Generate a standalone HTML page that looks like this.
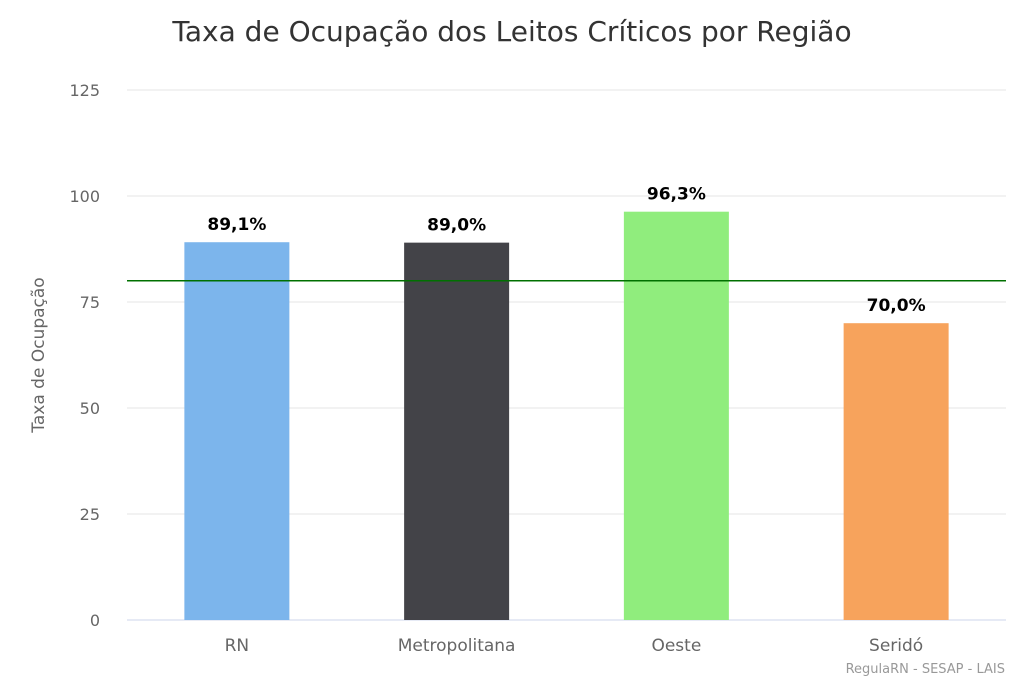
<!DOCTYPE html>
<html><head><meta charset="utf-8"><style>
body{margin:0;background:#fff;font-family:"DejaVu Sans","Liberation Sans",sans-serif}
</style></head><body>
<svg id="chart" width="1024" height="683" xmlns="http://www.w3.org/2000/svg">
<rect width="1024" height="683" fill="#fff"/>
<text x="512" y="41" text-anchor="middle" font-size="28" fill="#333">Taxa de Ocupação dos Leitos Críticos por Região</text>
<text transform="translate(44,355) rotate(-90)" text-anchor="middle" font-size="17" fill="#666">Taxa de Ocupação</text>
<g id="grid"></g><g id="bars"></g>
<text x="1005" y="673" text-anchor="end" font-size="13" fill="#999">RegulaRN - SESAP - LAIS</text>
</svg>
<script>
const categories=["RN","Metropolitana","Oeste","Seridó"];
const values=[89.1,89.0,96.3,70.0];
const labels=["89,1%","89,0%","96,3%","70,0%"];
const colors=["#7cb5ec","#434348","#90ed7d","#f7a35c"];
const yTicks=[0,25,50,75,100,125];
const target=80;
const NS="http://www.w3.org/2000/svg";
const x0=127,x1=1006,y0=620,yMax=125,yTop=90;
const y=v=>y0-(v/yMax)*(y0-yTop);
const bw=(x1-x0)/categories.length;
const xc=i=>x0+bw*(i+0.5);
function mk(t,a,p){const e=document.createElementNS(NS,t);for(const k in a)e.setAttribute(k,a[k]);p.appendChild(e);return e;}
const g=document.getElementById('grid'),b=document.getElementById('bars');
yTicks.forEach(t=>{
 const l=mk('line',{x1:x0,x2:x1,y1:y(t),y2:y(t),stroke:t===0?'#ccd6eb':'#e6e6e6','stroke-width':1},g);
 
 
 const tx=mk('text',{x:100,y:y(t)+6,'text-anchor':'end','font-size':16,fill:'#666'},g);
 tx.textContent=t;
 
 
});
categories.forEach((c,i)=>{
 const r=mk('rect',{x:xc(i)-52.5,y:y(values[i]),width:105,height:y0-y(values[i]),fill:colors[i]},b);
 
 
 const lb=mk('text',{x:xc(i),y:y(values[i])-12,'text-anchor':'middle','font-size':17,'font-weight':'bold',fill:'#000'},b);
 lb.textContent=labels[i];
 
 
 const xl=mk('text',{x:xc(i),y:651,'text-anchor':'middle','font-size':17,fill:'#666'},b);
 xl.textContent=c;
 
 
});
const tl=mk('line',{x1:x0,x2:x1,y1:y(target),y2:y(target),stroke:'#007000','stroke-width':1.5},b);


</script>
</body></html>
